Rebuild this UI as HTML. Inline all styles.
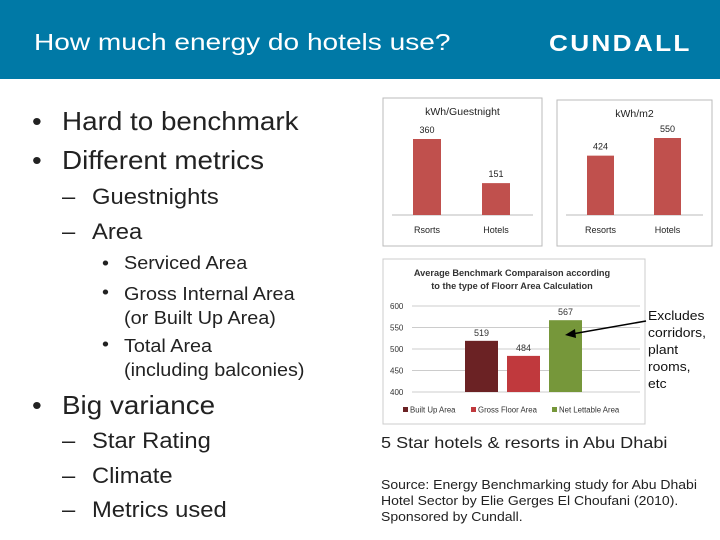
<!DOCTYPE html>
<html><head><meta charset="utf-8"><style>
body{margin:0;width:720px;height:540px;position:relative;background:#fff;font-family:"Liberation Sans",sans-serif;overflow:hidden}
.hdr{position:absolute;left:0;top:0;width:720px;height:79px;background:#0079a6}
.t{position:absolute;white-space:nowrap;color:#222;transform-origin:0 0}
svg{position:absolute;left:0;top:0}
.b1{font-size:26px;transform:scaleX(1.07)}
.b2{font-size:22px;transform:scaleX(1.08)}
.b3{font-size:18px;transform:scaleX(1.1)}
</style></head><body>
<div class="hdr"></div>
<div class="t" style="left:34px;top:29px;font-size:23px;color:#fff;transform:scaleX(1.22)">How much energy do hotels use?</div>
<div class="t" style="left:549px;top:30px;font-size:23px;font-weight:bold;color:#fff;letter-spacing:2px;transform:scaleX(1.14)">CUNDALL</div>

<div class="t b1" style="left:32px;top:106px">•</div>
<div class="t b1" style="left:62px;top:106px">Hard to benchmark</div>
<div class="t b1" style="left:32px;top:145px">•</div>
<div class="t b1" style="left:62px;top:145px">Different metrics</div>
<div class="t b2" style="left:62px;top:184px">–</div>
<div class="t b2" style="left:92px;top:184px">Guestnights</div>
<div class="t b2" style="left:62px;top:219px">–</div>
<div class="t b2" style="left:92px;top:219px">Area</div>
<div class="t b3" style="left:102px;top:253px">•</div>
<div class="t b3" style="left:124px;top:253px">Serviced Area</div>
<div class="t b3" style="left:102px;top:282px">•</div>
<div class="t b3" style="left:124px;top:282px;line-height:24px">Gross Internal Area<br>(or Built Up Area)</div>
<div class="t b3" style="left:102px;top:334px">•</div>
<div class="t b3" style="left:124px;top:334px;line-height:24px">Total Area<br>(including balconies)</div>
<div class="t b1" style="left:32px;top:390px">•</div>
<div class="t b1" style="left:62px;top:390px">Big variance</div>
<div class="t b2" style="left:62px;top:428px">–</div>
<div class="t b2" style="left:92px;top:428px">Star Rating</div>
<div class="t b2" style="left:62px;top:463px">–</div>
<div class="t b2" style="left:92px;top:463px">Climate</div>
<div class="t b2" style="left:62px;top:497px">–</div>
<div class="t b2" style="left:92px;top:497px">Metrics used</div>

<div class="t" style="left:648px;top:307px;font-size:13px;line-height:17px;color:#111;transform:scaleX(1.07)">Excludes<br>corridors,<br>plant<br>rooms,<br>etc</div>
<div class="t" style="left:381px;top:435px;font-size:16px;transform:scaleX(1.13)">5 Star hotels &amp; resorts in Abu Dhabi</div>
<div class="t" style="left:381px;top:477px;font-size:12.5px;line-height:16px;transform:scaleX(1.12)">Source: Energy Benchmarking study for Abu Dhabi<br>Hotel Sector by Elie Gerges El Choufani (2010).<br>Sponsored by Cundall.</div>

<svg id="s" width="720" height="540"></svg>
<script>
const c1Cats=["Rsorts","Hotels"];
const c1Vals=[360,151];
const c2Cats=["Resorts","Hotels"];
const c2Vals=[424,550];
const c3Cats=["Built Up Area","Gross Floor Area","Net Lettable Area"];
const c3Vals=[519,484,567];
const c3Colors=["#6b2224","#c0393d","#76973a"];
const c3Ticks=[400,450,500,550,600];

const S=document.getElementById('s');const NS="http://www.w3.org/2000/svg";
function mk(t,a,txt){const e=document.createElementNS(NS,t);for(const k in a)e.setAttribute(k,a[k]);if(txt!=null)e.textContent=txt;S.appendChild(e);return e;}
const F='"Liberation Sans",sans-serif';

function small(box,title,cats,vals,xs,bw,scale,nm){
  let e=mk('rect',{x:box[0],y:box[1],width:box[2],height:box[3],fill:'#fff',stroke:'#bbb'});
  
  e=mk('text',{x:box[0]+box[2]/2,y:box[1]+17,'text-anchor':'middle','font-size':10.5,'font-family':F,fill:'#222'},title);
  
  const base=215;
  e=mk('line',{x1:box[0]+9,x2:box[0]+box[2]-9,y1:base,y2:base,stroke:'#bbb'});
  
  cats.forEach((c,i)=>{const h=vals[i]*scale;
    e=mk('rect',{x:xs[i],y:base-h,width:bw,height:h,fill:'#c0504d'});
    
    e=mk('text',{x:xs[i]+bw/2,y:base-h-6,'text-anchor':'middle','font-size':9,'font-family':F,fill:'#222'},vals[i]);
    
    e=mk('text',{x:xs[i]+bw/2,y:233,'text-anchor':'middle','font-size':9,'font-family':F,fill:'#222'},c);
    
  });
}
small([383,98,159,148],'kWh/Guestnight',c1Cats,c1Vals,[413,482],28,76/360,'guestnight-chart');
small([557,100,155,146],'kWh/m2',c2Cats,c2Vals,[587,654],27,77/550,'area-chart');

let e=mk('rect',{x:383,y:259,width:262,height:165,fill:'#fff',stroke:'#ccc'});

['Average Benchmark Comparaison according','to the type of Floorr Area Calculation'].forEach((l,i)=>{
  e=mk('text',{x:512,y:276+i*13,'text-anchor':'middle','font-size':9.2,'font-weight':'bold','font-family':F,fill:'#333'},l);
  });
const y3=v=>392-(v-400)*(86/200);
c3Ticks.forEach(t=>{
  e=mk('line',{x1:412,x2:640,y1:y3(t),y2:y3(t),stroke:'#bbb','stroke-width':0.8});
  
  e=mk('text',{x:390,y:y3(t)+3,'font-size':8,'font-family':F,fill:'#333'},t);
  });
const x3=[465,507,549];
c3Cats.forEach((c,i)=>{
  e=mk('rect',{x:x3[i],y:y3(c3Vals[i]),width:33,height:392-y3(c3Vals[i]),fill:c3Colors[i]});
  
  e=mk('text',{x:x3[i]+16.5,y:y3(c3Vals[i])-5,'text-anchor':'middle','font-size':9,'font-family':F,fill:'#333'},c3Vals[i]);
  });
const lx=[403,471,552];
c3Cats.forEach((c,i)=>{
  e=mk('rect',{x:lx[i],y:407,width:5,height:5,fill:c3Colors[i]});
  
  e=mk('text',{x:lx[i]+7,y:412.5,'font-size':7.8,'font-family':F,fill:'#333'},c);
  });
e=mk('line',{x1:646,y1:321,x2:572,y2:334,stroke:'#000','stroke-width':1.5});

e=mk('polygon',{points:'565,335 575,329 576,338',fill:'#000'});

</script>
</body></html>
